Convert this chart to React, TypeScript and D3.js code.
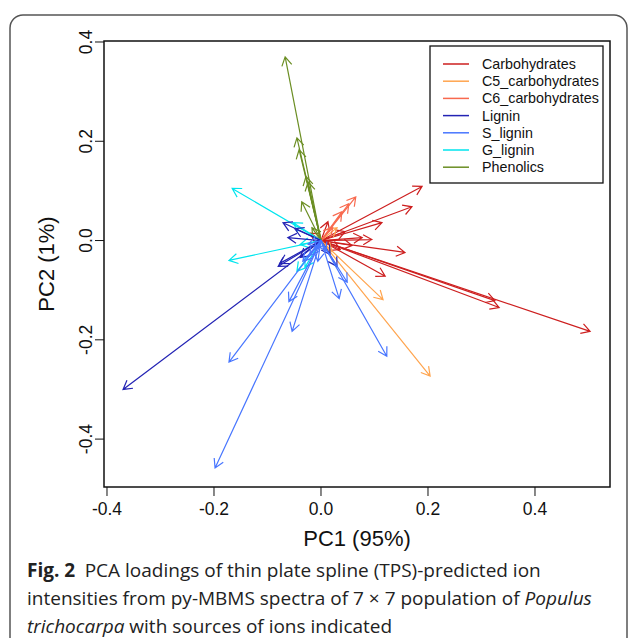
import React from 'react';
import * as d3 from 'd3';

// loadings [PC1, PC2], one list per ion source
const carbohydrates: [number, number][] = [
  [0.503, -0.183], [0.333, -0.135], [0.325, -0.121], [0.157, -0.024], [0.120, -0.072],
  [0.095, 0.002], [0.189, 0.109], [0.170, 0.068], [0.114, 0.036], [0.013, 0.038],
  [0.045, 0.018], [0.058, -0.010], [0.036, -0.018], [0.077, 0.006], [-0.020, 0.015],
];
const c5Carbohydrates: [number, number][] = [
  [0.204, -0.273], [0.116, -0.119], [0.030, 0.026], [0.021, -0.022],
];
const c6Carbohydrates: [number, number][] = [
  [0.065, 0.088], [0.052, 0.074], [0.039, 0.058], [0.022, 0.026],
];
const phenolics: [number, number][] = [
  [-0.067, 0.370], [-0.045, 0.207], [-0.041, 0.183], [-0.028, 0.129], [-0.036, 0.078],
  [-0.024, 0.118], [-0.017, 0.026],
];
const gLignin: [number, number][] = [
  [-0.166, 0.105], [-0.172, -0.040], [-0.052, 0.036], [-0.045, -0.062], [-0.030, -0.054],
  [-0.039, -0.008],
];
const lignin: [number, number][] = [
  [-0.370, -0.300], [-0.077, -0.046], [-0.071, 0.036], [-0.062, 0.006], [-0.080, -0.052],
  [0.030, -0.052], [-0.049, 0.024], [-0.039, -0.034], [0.017, -0.028],
];
const sLignin: [number, number][] = [
  [-0.198, -0.458], [-0.172, -0.245], [-0.054, -0.183], [-0.060, -0.123], [0.034, -0.117],
  [0.049, -0.084], [0.123, -0.233], [-0.021, -0.030], [-0.011, -0.018], [-0.024, -0.008],
  [0.009, -0.022], [-0.006, -0.042], [-0.034, -0.042],
];

const xTicks = [-0.4, -0.2, 0.0, 0.2, 0.4];
const yTicks = [-0.4, -0.2, 0.0, 0.2, 0.4];

const groups = [
  { name: 'Carbohydrates', color: '#CD1F1F', data: carbohydrates },
  { name: 'C5_carbohydrates', color: '#FFA54F', data: c5Carbohydrates },
  { name: 'C6_carbohydrates', color: '#F8694E', data: c6Carbohydrates },
  { name: 'Lignin', color: '#2323B4', data: lignin },
  { name: 'S_lignin', color: '#4876FF', data: sLignin },
  { name: 'G_lignin', color: '#00E5EE', data: gLignin },
  { name: 'Phenolics', color: '#6B8E23', data: phenolics },
];
// drawing order (blue cluster ends up on top in the original)
const drawOrder = ['Carbohydrates', 'C5_carbohydrates', 'C6_carbohydrates', 'Phenolics', 'G_lignin', 'Lignin', 'S_lignin'];

const plot = { left: 104, right: 610, top: 41, bottom: 487 };
const x = d3.scaleLinear().domain([-0.4056, 0.5402]).range([plot.left, plot.right]);
const y = d3.scaleLinear().domain([-0.4965, 0.402]).range([plot.bottom, plot.top]);

const arrowPath = (tx: number, ty: number) => {
  const x0 = x(0), y0 = y(0);
  const x1 = x(tx), y1 = y(ty);
  const a = Math.atan2(y1 - y0, x1 - x0);
  const L = 10, w = Math.PI / 6;
  const p = d3.path();
  p.moveTo(x0, y0);
  p.lineTo(x1, y1);
  p.moveTo(x1 - L * Math.cos(a - w), y1 - L * Math.sin(a - w));
  p.lineTo(x1, y1);
  p.lineTo(x1 - L * Math.cos(a + w), y1 - L * Math.sin(a + w));
  return p.toString();
};

const font = '"Liberation Sans", Arial, sans-serif';
const capFont = '"Open Sans", "Noto Sans", sans-serif';

export default function App() {
  return (
    <svg width={629} height={638} style={{ position: 'absolute', left: 0, top: 0, background: '#fff' }}>
      <rect x={10} y={15} width={617} height={700} rx={13} fill="none" stroke="#555" strokeWidth={1.5} />

      {drawOrder.map(n => {
        const g = groups.find(d => d.name === n)!;
        return (
          <g key={n} stroke={g.color} strokeWidth={1.2} fill="none">
            {g.data.map((d, i) => <path key={i} d={arrowPath(d[0], d[1])} />)}
          </g>
        );
      })}

      <rect x={plot.left} y={plot.top} width={plot.right - plot.left} height={plot.bottom - plot.top}
        fill="none" stroke="#111" strokeWidth={1.5} />

      {/* axes */}
      <g fontFamily={font} fontSize={17.5} fill="#111">
        {xTicks.map(t => (
          <g key={t}>
            <line x1={x(t)} x2={x(t)} y1={plot.bottom} y2={plot.bottom + 9} stroke="#111" />
            <text x={x(t)} y={515} textAnchor="middle">{t.toFixed(1)}</text>
          </g>
        ))}
        {yTicks.map(t => (
          <g key={t}>
            <line x1={plot.left - 9} x2={plot.left} y1={y(t)} y2={y(t)} stroke="#111" />
            <text transform={`translate(92,${y(t)}) rotate(-90)`} textAnchor="middle">{t.toFixed(1)}</text>
          </g>
        ))}
      </g>
      <text x={357} y={546} textAnchor="middle" fontFamily={font} fontSize={22} fill="#111">PC1 (95%)</text>
      <text transform={`translate(54,${(plot.top + plot.bottom) / 2}) rotate(-90)`} textAnchor="middle"
        fontFamily={font} fontSize={22} fill="#111">PC2 (1%)</text>

      {/* legend */}
      <rect x={430} y={46} width={173} height={137} fill="#fff" stroke="#111" strokeWidth={1.3} />
      {groups.map((g, i) => (
        <g key={g.name} transform={`translate(0,${64 + i * 17.2})`}>
          <line x1={443} x2={469} y1={0} y2={0} stroke={g.color} strokeWidth={1.5} />
          <text x={482} y={5} fontFamily={font} fontSize={14.3} fill="#111">{g.name}</text>
        </g>
      ))}

      {/* caption */}
      <g fontFamily={capFont} fontSize={19} fill="#222">
        <text x={27} y={577}><tspan fontWeight="bold">Fig. 2</tspan>{'\u2002PCA loadings of thin plate spline (TPS)-predicted ion'}</text>
        <text x={27} y={605}>{'intensities from py-MBMS spectra of 7 × 7 population of '}<tspan fontStyle="italic">Populus</tspan></text>
        <text x={27} y={633}><tspan fontStyle="italic">trichocarpa</tspan>{' with sources of ions indicated'}</text>
      </g>
    </svg>
  );
}
